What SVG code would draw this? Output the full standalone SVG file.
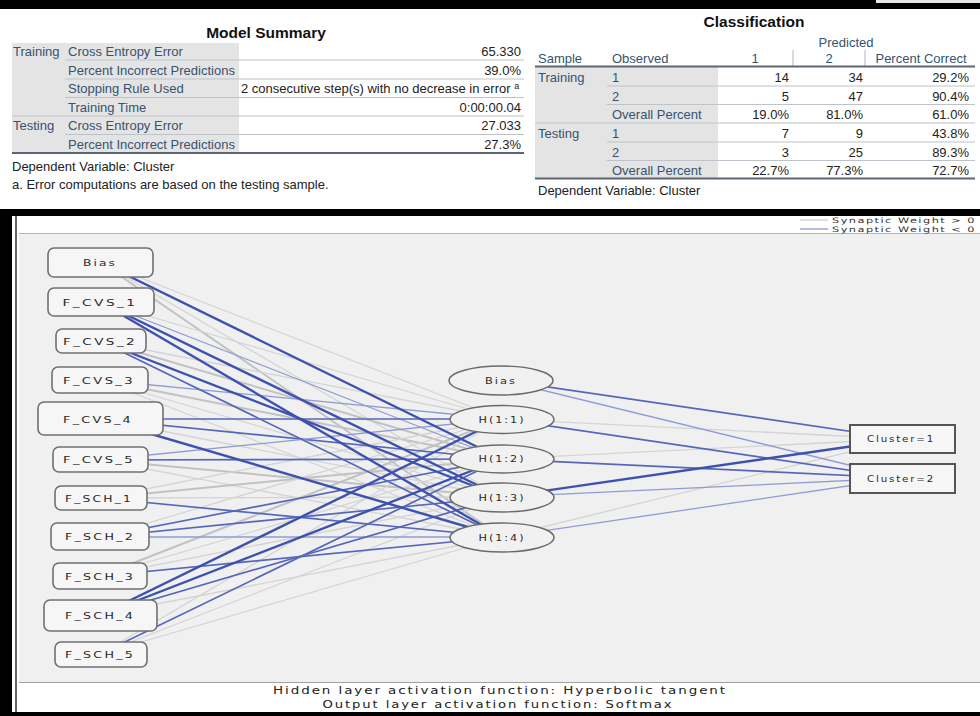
<svg xmlns="http://www.w3.org/2000/svg" width="980" height="716" viewBox="0 0 980 716">
<style>
.t{font-family:"Liberation Sans",Arial,sans-serif;font-size:13px}
.lb{fill:#36536f}
.v{fill:#222;text-anchor:end}
.vc{fill:#36536f;text-anchor:middle}
.ft{fill:#222}
.ttl{font-family:"Liberation Sans",Arial,sans-serif;font-weight:bold;font-size:15.5px;fill:#111;text-anchor:middle}
.rl{stroke:#bcc3ca;stroke-width:1.2}
.tk{stroke:#5c6670;stroke-width:2}
.nd{font-family:"DejaVu Sans",sans-serif;font-size:8.5px;letter-spacing:1.5px;fill:#2a2a2a;text-anchor:middle}
.lg{font-family:"DejaVu Sans",sans-serif;font-size:7.5px;letter-spacing:1px;fill:#333}
.fo{font-family:"DejaVu Sans",sans-serif;font-size:10.5px;letter-spacing:1.5px;fill:#222;text-anchor:middle}
.ib{fill:#f6f6f6;stroke:#707070;stroke-width:1.6}
.hb{fill:#f1f1f1;stroke:#6a6a6a;stroke-width:1.4}
.ob{fill:#f6f6f6;stroke:#555;stroke-width:2}
.n3{stroke:#3d51ae;stroke-width:2.4}
.n2{stroke:#5567ba;stroke-width:1.7}
.n1{stroke:#8f9cd3;stroke-width:1.3}
.p2{stroke:#c2c2c2;stroke-width:2}
.p1{stroke:#d4d4d4;stroke-width:1.3}
</style>
<rect x="0" y="0" width="980" height="716" fill="#ffffff"/>
<rect x="0" y="0" width="980" height="9" fill="#000"/>
<rect x="876" y="0" width="104" height="3" fill="#e8e8e8"/>

<!-- Model Summary -->
<g id="model-summary">
<text class="ttl" x="266" y="38">Model Summary</text>
<rect x="12" y="43" width="227" height="109" fill="#e4e4e4"/>
<g class="t lb">
<text x="13" y="55.5">Training</text>
<text x="68" y="55.5">Cross Entropy Error</text>
<text x="68" y="74.5">Percent Incorrect Predictions</text>
<text x="68" y="93">Stopping Rule Used</text>
<text x="68" y="111.5">Training Time</text>
<text x="13" y="130">Testing</text>
<text x="68" y="130">Cross Entropy Error</text>
<text x="68" y="148.5">Percent Incorrect Predictions</text>
</g>
<g class="t v">
<text x="521" y="55.5">65.330</text>
<text x="521" y="74.5">39.0%</text>
<text x="521" y="111.5">0:00:00.04</text>
<text x="521" y="130">27.033</text>
<text x="521" y="148.5">27.3%</text>
</g>
<text class="t ft" x="241" y="93">2 consecutive step(s) with no decrease in error <tspan font-size="9" dy="-4">a</tspan></text>
<line class="rl" x1="65" y1="60" x2="524" y2="60"/>
<line class="rl" x1="65" y1="79" x2="524" y2="79"/>
<line class="rl" x1="65" y1="97.5" x2="524" y2="97.5"/>
<line class="rl" x1="12" y1="116" x2="524" y2="116"/>
<line class="rl" x1="65" y1="134.5" x2="524" y2="134.5"/>
<line class="tk" x1="12" y1="153" x2="524" y2="153"/>
<text class="t ft" x="12" y="170.5">Dependent Variable: Cluster</text>
<text class="t ft" x="12" y="188.5">a. Error computations are based on the testing sample.</text>
</g>

<!-- Classification -->
<g id="classification">
<text class="ttl" x="754" y="27">Classification</text>
<text class="t vc" x="846" y="46.5" fill="#4a6a8e">Predicted</text>
<line class="rl" x1="793" y1="50" x2="793" y2="66"/>
<line class="rl" x1="865" y1="50" x2="865" y2="66"/>
<rect x="535" y="67" width="183" height="111" fill="#e4e4e4"/>
<g class="t lb">
<text x="538" y="62.5">Sample</text>
<text x="612" y="62.5">Observed</text>
<text x="538" y="82">Training</text>
<text x="612" y="82">1</text>
<text x="612" y="100.5">2</text>
<text x="612" y="119">Overall Percent</text>
<text x="538" y="138">Testing</text>
<text x="612" y="138">1</text>
<text x="612" y="156.5">2</text>
<text x="612" y="174.5">Overall Percent</text>
</g>
<g class="t vc">
<text x="755" y="62.5">1</text>
<text x="829" y="62.5">2</text>
<text x="921" y="62.5">Percent Correct</text>
</g>
<g class="t v">
<text x="789" y="82">14</text><text x="863" y="82">34</text><text x="969" y="82">29.2%</text>
<text x="789" y="100.5">5</text><text x="863" y="100.5">47</text><text x="969" y="100.5">90.4%</text>
<text x="789" y="119">19.0%</text><text x="863" y="119">81.0%</text><text x="969" y="119">61.0%</text>
<text x="789" y="138">7</text><text x="863" y="138">9</text><text x="969" y="138">43.8%</text>
<text x="789" y="156.5">3</text><text x="863" y="156.5">25</text><text x="969" y="156.5">89.3%</text>
<text x="789" y="174.5">22.7%</text><text x="863" y="174.5">77.3%</text><text x="969" y="174.5">72.7%</text>
</g>
<line class="tk" x1="535" y1="66.5" x2="975" y2="66.5"/>
<line class="rl" x1="607" y1="86" x2="975" y2="86"/>
<line class="rl" x1="607" y1="104.5" x2="975" y2="104.5"/>
<line class="rl" x1="535" y1="123" x2="975" y2="123"/>
<line class="rl" x1="607" y1="142" x2="975" y2="142"/>
<line class="rl" x1="607" y1="160.5" x2="975" y2="160.5"/>
<line class="tk" x1="535" y1="178.5" x2="975" y2="178.5"/>
<text class="t ft" x="538" y="195">Dependent Variable: Cluster</text>
</g>

<!-- Chart frame -->
<rect x="0" y="209" width="980" height="7" fill="#000"/>
<rect x="0" y="209" width="12" height="507" fill="#000"/>
<rect x="0" y="712" width="980" height="4" fill="#000"/>
<line x1="16" y1="216" x2="16" y2="712" stroke="#333" stroke-width="1.5"/>
<rect x="19" y="234" width="961" height="448" fill="#f0f0f0"/>
<line x1="19" y1="233.5" x2="980" y2="233.5" stroke="#b4b4b4" stroke-width="1"/>
<line x1="19" y1="682.5" x2="980" y2="682.5" stroke="#a0a0a0" stroke-width="1.2"/>

<g id="legend">
<line x1="800" y1="220" x2="828" y2="220" stroke="#d0d0d0" stroke-width="1.3"/>
<line x1="800" y1="229" x2="828" y2="229" stroke="#8f9cd3" stroke-width="1.3"/>
<text class="lg" x="832" y="222.5" textLength="144" lengthAdjust="spacingAndGlyphs">Synaptic Weight &gt; 0</text>
<text class="lg" x="832" y="231.5" textLength="144" lengthAdjust="spacingAndGlyphs">Synaptic Weight &lt; 0</text>
</g>

<!-- Connectors -->
<g id="connectors" fill="none">
<line class="p1" x1="100" y1="262" x2="502" y2="419"/>
<line class="p1" x1="100" y1="262" x2="502" y2="497"/>
<line class="p2" x1="100" y1="262" x2="502" y2="537"/>
<line class="p1" x1="100" y1="302" x2="502" y2="419"/>
<line class="p1" x1="100" y1="341" x2="502" y2="419"/>
<line class="p2" x1="100" y1="341" x2="502" y2="459"/>
<line class="p2" x1="100" y1="380" x2="502" y2="459"/>
<line class="p1" x1="100" y1="380" x2="502" y2="497"/>
<line class="p1" x1="100" y1="380" x2="502" y2="537"/>
<line class="p1" x1="100" y1="419" x2="502" y2="497"/>
<line class="p2" x1="100" y1="460" x2="502" y2="497"/>
<line class="p1" x1="100" y1="460" x2="502" y2="537"/>
<line class="p1" x1="100" y1="498" x2="502" y2="419"/>
<line class="p2" x1="100" y1="498" x2="502" y2="459"/>
<line class="p1" x1="100" y1="498" x2="502" y2="497"/>
<line class="p1" x1="100" y1="537" x2="502" y2="419"/>
<line class="p2" x1="100" y1="576" x2="502" y2="419"/>
<line class="p1" x1="100" y1="576" x2="502" y2="459"/>
<line class="p1" x1="100" y1="576" x2="502" y2="497"/>
<line class="p1" x1="100" y1="615" x2="502" y2="537"/>
<line class="p1" x1="100" y1="654" x2="502" y2="419"/>
<line class="p1" x1="100" y1="654" x2="502" y2="497"/>
<line class="p1" x1="100" y1="654" x2="502" y2="537"/>
<line class="n1" x1="100" y1="302" x2="502" y2="459"/>
<line class="n1" x1="100" y1="380" x2="502" y2="419"/>
<line class="n2" x1="100" y1="419" x2="502" y2="419"/>
<line class="n2" x1="100" y1="419" x2="502" y2="459"/>
<line class="n1" x1="100" y1="460" x2="502" y2="419"/>
<line class="n2" x1="100" y1="460" x2="502" y2="459"/>
<line class="n2" x1="100" y1="498" x2="502" y2="537"/>
<line class="n2" x1="100" y1="537" x2="502" y2="459"/>
<line class="n2" x1="100" y1="537" x2="502" y2="497"/>
<line class="n1" x1="100" y1="537" x2="502" y2="537"/>
<line class="n2" x1="100" y1="576" x2="502" y2="537"/>
<line class="n2" x1="100" y1="615" x2="502" y2="497"/>
<line class="n2" x1="100" y1="654" x2="502" y2="459"/>
<line class="n3" x1="100" y1="262" x2="502" y2="459"/>
<line class="n3" x1="100" y1="302" x2="502" y2="497"/>
<line class="n3" x1="100" y1="302" x2="502" y2="537"/>
<line class="n3" x1="100" y1="341" x2="502" y2="497"/>
<line class="n2" x1="100" y1="341" x2="502" y2="537"/>
<line class="n3" x1="100" y1="419" x2="502" y2="537"/>
<line class="n3" x1="100" y1="615" x2="502" y2="419"/>
<line class="n3" x1="100" y1="615" x2="502" y2="459"/>
<line class="p1" x1="502" y1="419" x2="902" y2="439"/>
<line class="p1" x1="502" y1="459" x2="902" y2="439"/>
<line class="p1" x1="502" y1="537" x2="902" y2="439"/>
<line class="n2" x1="501" y1="380" x2="902" y2="439"/>
<line class="n1" x1="501" y1="380" x2="902" y2="478"/>
<line class="n2" x1="502" y1="419" x2="902" y2="478"/>
<line class="n2" x1="502" y1="459" x2="902" y2="478"/>
<line class="n3" x1="502" y1="497" x2="902" y2="439"/>
<line class="n1" x1="502" y1="497" x2="902" y2="478"/>
<line class="n1" x1="502" y1="537" x2="902" y2="478"/>
</g>

<!-- Input nodes -->
<g id="in-bias"><rect class="ib" x="48" y="248" width="105" height="29" rx="6"/><text class="nd" x="100" y="266" textLength="34" lengthAdjust="spacingAndGlyphs">Bias</text></g>
<g id="in-cvs1"><rect class="ib" x="48" y="288" width="106" height="28" rx="6"/><text class="nd" x="100" y="305.5" textLength="75" lengthAdjust="spacingAndGlyphs">F_CVS_1</text></g>
<g id="in-cvs2"><rect class="ib" x="56" y="329" width="90" height="24" rx="6"/><text class="nd" x="100" y="344.5" textLength="74" lengthAdjust="spacingAndGlyphs">F_CVS_2</text></g>
<g id="in-cvs3"><rect class="ib" x="52" y="367" width="96" height="26" rx="6"/><text class="nd" x="99" y="383.5" textLength="72" lengthAdjust="spacingAndGlyphs">F_CVS_3</text></g>
<g id="in-cvs4"><rect class="ib" x="38" y="402" width="125" height="33" rx="6"/><text class="nd" x="98" y="422.5" textLength="70" lengthAdjust="spacingAndGlyphs">F_CVS_4</text></g>
<g id="in-cvs5"><rect class="ib" x="53" y="447" width="95" height="25" rx="6"/><text class="nd" x="99" y="463" textLength="72" lengthAdjust="spacingAndGlyphs">F_CVS_5</text></g>
<g id="in-sch1"><rect class="ib" x="55" y="486" width="92" height="24" rx="6"/><text class="nd" x="99" y="501.5" textLength="68" lengthAdjust="spacingAndGlyphs">F_SCH_1</text></g>
<g id="in-sch2"><rect class="ib" x="51" y="523" width="98" height="27" rx="6"/><text class="nd" x="100" y="540" textLength="70" lengthAdjust="spacingAndGlyphs">F_SCH_2</text></g>
<g id="in-sch3"><rect class="ib" x="53" y="563" width="94" height="26" rx="6"/><text class="nd" x="100" y="579.5" textLength="70" lengthAdjust="spacingAndGlyphs">F_SCH_3</text></g>
<g id="in-sch4"><rect class="ib" x="44" y="600" width="113" height="31" rx="6"/><text class="nd" x="100" y="619" textLength="70" lengthAdjust="spacingAndGlyphs">F_SCH_4</text></g>
<g id="in-sch5"><rect class="ib" x="55" y="642" width="92" height="25" rx="6"/><text class="nd" x="100" y="658" textLength="70" lengthAdjust="spacingAndGlyphs">F_SCH_5</text></g>

<!-- Hidden nodes -->
<g id="h-bias"><ellipse class="hb" cx="501" cy="380.5" rx="52" ry="14.5"/><text class="nd" x="501" y="383.5" textLength="32" lengthAdjust="spacingAndGlyphs">Bias</text></g>
<g id="h-1"><ellipse class="hb" cx="502" cy="419.5" rx="52" ry="14"/><text class="nd" x="502" y="422.5" textLength="47" lengthAdjust="spacingAndGlyphs">H(1:1)</text></g>
<g id="h-2"><ellipse class="hb" cx="502" cy="459" rx="52" ry="14"/><text class="nd" x="502" y="462" textLength="47" lengthAdjust="spacingAndGlyphs">H(1:2)</text></g>
<g id="h-3"><ellipse class="hb" cx="502" cy="497.5" rx="52" ry="14.5"/><text class="nd" x="502" y="500.5" textLength="47" lengthAdjust="spacingAndGlyphs">H(1:3)</text></g>
<g id="h-4"><ellipse class="hb" cx="502" cy="537.5" rx="52" ry="14.5"/><text class="nd" x="502" y="540.5" textLength="47" lengthAdjust="spacingAndGlyphs">H(1:4)</text></g>

<!-- Output nodes -->
<g id="out-1"><rect class="ob" x="850" y="425" width="105" height="28"/><text class="nd" x="901" y="442" textLength="68" lengthAdjust="spacingAndGlyphs">Cluster=1</text></g>
<g id="out-2"><rect class="ob" x="850" y="464" width="105" height="29"/><text class="nd" x="901" y="481.5" textLength="68" lengthAdjust="spacingAndGlyphs">Cluster=2</text></g>

<!-- Footer -->
<text class="fo" x="500" y="694" textLength="454" lengthAdjust="spacingAndGlyphs">Hidden layer activation function: Hyperbolic tangent</text>
<text class="fo" x="498" y="708" textLength="351" lengthAdjust="spacingAndGlyphs">Output layer activation function: Softmax</text>
</svg>
